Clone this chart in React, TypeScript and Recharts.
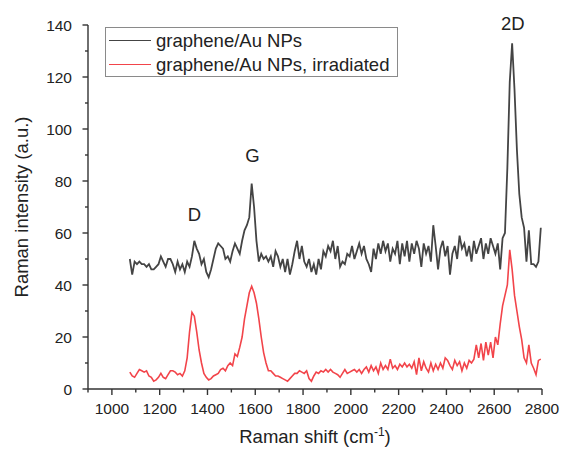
import { LineChart, Line, XAxis, YAxis, Legend, ReferenceDot, Label } from "recharts";

const ramanShift = [
  1075, 1085, 1095, 1105, 1115, 1125, 1135, 1145, 1155, 1165, 1175, 1185, 1195, 1205, 1215, 1225, 1235, 1245, 1255, 1265,
  1275, 1285, 1295, 1305, 1315, 1325, 1335, 1345, 1355, 1365, 1375, 1385, 1395, 1405, 1415, 1425, 1435, 1445, 1455, 1465,
  1475, 1485, 1495, 1505, 1515, 1525, 1535, 1545, 1555, 1565, 1575, 1585, 1595, 1605, 1615, 1625, 1635, 1645, 1655, 1665,
  1675, 1685, 1695, 1705, 1715, 1725, 1735, 1745, 1755, 1765, 1775, 1785, 1795, 1805, 1815, 1825, 1835, 1845, 1855, 1865,
  1875, 1885, 1895, 1905, 1915, 1925, 1935, 1945, 1955, 1965, 1975, 1985, 1995, 2005, 2015, 2025, 2035, 2045, 2055, 2065,
  2075, 2085, 2095, 2105, 2115, 2125, 2135, 2145, 2155, 2165, 2175, 2185, 2195, 2205, 2215, 2225, 2235, 2245, 2255, 2265,
  2275, 2285, 2295, 2305, 2315, 2325, 2335, 2345, 2355, 2365, 2375, 2385, 2395, 2405, 2415, 2425, 2435, 2445, 2455, 2465,
  2475, 2485, 2495, 2505, 2515, 2525, 2535, 2545, 2555, 2565, 2575, 2585, 2595, 2605, 2615, 2625, 2635, 2645, 2655, 2665,
  2675, 2685, 2695, 2705, 2715, 2725, 2735, 2745, 2755, 2765, 2775, 2785, 2795,
];

// graphene/Au NPs
const pristine = [
  50, 44, 49, 48, 49, 48, 48, 47, 48, 46, 46, 47, 48, 51, 49, 47, 50, 50, 48, 45,
  49, 46, 48, 45, 49, 47, 51, 57, 54, 52, 48, 50, 45, 43, 46, 50, 54, 56, 55, 54,
  50, 51, 49, 53, 56, 54, 52, 57, 61, 63, 66, 79, 70, 57, 49, 52, 50, 51, 49, 51,
  47, 53, 51, 47, 50, 45, 50, 44, 48, 53, 57, 50, 55, 49, 47, 50, 45, 48, 44, 50,
  46, 53, 51, 55, 53, 57, 50, 55, 47, 49, 48, 52, 51, 55, 50, 53, 56, 52, 55, 50,
  48, 45, 54, 50, 56, 52, 57, 53, 56, 49, 54, 52, 57, 48, 56, 51, 57, 49, 56, 52,
  57, 54, 47, 56, 52, 55, 49, 63, 55, 46, 54, 57, 51, 55, 44, 52, 55, 50, 59, 54,
  56, 51, 55, 49, 57, 52, 55, 58, 50, 56, 52, 58, 55, 52, 56, 46, 58, 60, 85, 118,
  133, 115, 92, 75, 66, 62, 49, 61, 48, 48, 47, 49, 62,
];

// graphene/Au NPs, irradiated
const irradiated = [
  6.5, 5, 4.5, 6, 7.5, 7, 6.5, 7, 5, 4.5, 3, 3.5, 4.5, 6, 4.5, 4, 5.5, 7, 7, 6.5,
  5.5, 6, 5, 7, 12, 22, 29.5, 28, 22, 15, 10, 6, 4.5, 3.5, 4, 5, 5.5, 6, 7.5, 8,
  7, 9, 10, 9, 13.5, 12.5, 16, 20, 27, 32, 37, 39.5, 37, 33, 27, 20, 14, 10, 7, 7,
  6, 5, 5, 4.5, 4, 3.5, 3, 4, 5, 6, 6, 7, 6.5, 6, 7, 4, 3, 5, 6.5, 6,
  7, 6.5, 7.5, 6.5, 7.5, 6.5, 6, 5.5, 4.5, 6, 7.5, 6, 6.5, 7, 7.5, 6.5, 7.5, 6, 7.5, 8.5,
  6.5, 9, 7, 8.5, 6, 10, 7.5, 9, 7.5, 11.5, 8, 9, 7.5, 9.5, 8.5, 10, 8.5, 9.5, 8, 10.5,
  5.5, 12, 7, 10.5, 8, 6.5, 10, 7, 9.5, 7.5, 10, 8, 12, 11, 9, 7.5, 11, 9, 10.5, 7,
  10, 8, 11, 10, 11.5, 17, 12, 17.5, 11, 18, 13, 18, 12, 20, 17, 25, 32, 36, 40, 53.5,
  46, 36, 30, 24, 19, 12, 10, 17, 10, 8, 5.5, 11, 11.5,
];

const seriesNames = ["graphene/Au NPs", "graphene/Au NPs, irradiated"];
const seriesColors = ["#444444", "#f2444a"];

const xTicks = [900, 1000, 1100, 1200, 1300, 1400, 1500, 1600, 1700, 1800, 1900, 2000, 2100, 2200, 2300, 2400, 2500, 2600, 2700, 2800];
const yTicks = [0, 10, 20, 30, 40, 50, 60, 70, 80, 90, 100, 110, 120, 130, 140];

const peakLabels = [
  { name: "D", shift: 1345, intensity: 67 },
  { name: "G", shift: 1588, intensity: 90 },
  { name: "2D", shift: 2678, intensity: 140.5 },
];

const pristineData = ramanShift.map((x, i) => ({ x, y: pristine[i] }));
const irradiatedData = ramanShift.map((x, i) => ({ x, y: irradiated[i] }));

const FONT = "'Liberation Sans', Arial, sans-serif";
const AXIS = "#333";

function XTick({ x, y, payload }: any) {
  const major = payload.value % 200 === 0;
  return (
    <g>
      <line x1={x} x2={x} y1={y} y2={y + (major ? 6 : 3.5)} stroke={AXIS} strokeWidth={1.4} />
      {major && (
        <text x={x} y={y + 25} textAnchor="middle" fontSize={15.5} fill="#222" fontFamily={FONT}>
          {payload.value}
        </text>
      )}
    </g>
  );
}

function YTick({ x, y, payload }: any) {
  const major = payload.value % 20 === 0;
  return (
    <g>
      <line x1={x} x2={x - (major ? 5.5 : 3)} y1={y} y2={y} stroke={AXIS} strokeWidth={1.4} />
      {major && (
        <text x={x - 16} y={y + 5.5} textAnchor="end" fontSize={15.5} fill="#222" fontFamily={FONT}>
          {payload.value}
        </text>
      )}
    </g>
  );
}

function LegendBox({ payload }: any) {
  return (
    <div
      style={{
        width: 291,
        height: 48,
        border: "1px solid #8a8a8a",
        background: "#fff",
        fontFamily: FONT,
        fontSize: 18.5,
        color: "#222",
        boxSizing: "content-box",
      }}
    >
      {(payload || []).map((entry: any) => (
        <div key={entry.value} style={{ display: "flex", alignItems: "center", height: 23, marginTop: 1 }}>
          <div style={{ width: 42, height: 0, borderTop: `1.5px solid ${entry.color}`, marginLeft: 3, marginRight: 5 }} />
          <span style={{ lineHeight: "23px", whiteSpace: "nowrap" }}>{entry.value}</span>
        </div>
      ))}
    </div>
  );
}

export default function App() {
  return (
    <div style={{ position: "absolute", left: 0, top: 0, width: 563, height: 449, background: "#fff" }}>
      <LineChart width={563} height={449} margin={{ top: 25, right: 21, bottom: 0, left: 0 }}>
        <XAxis
          type="number"
          dataKey="x"
          domain={[900, 2800]}
          ticks={xTicks}
          interval={0}
          height={60}
          tickSize={0}
          tickMargin={0}
          tick={<XTick />}
          axisLine={{ stroke: AXIS, strokeWidth: 1.4 }}
          allowDuplicatedCategory={false}
        >
          <Label
            content={({ viewBox }: any) => (
              <text
                x={viewBox.x + viewBox.width / 2}
                y={viewBox.y + 54}
                textAnchor="middle"
                fontSize={18.5}
                fill="#222"
                fontFamily={FONT}
              >
                Raman shift (cm
                <tspan dy={-7} fontSize={12}>-1</tspan>
                <tspan dy={7}>)</tspan>
              </text>
            )}
          />
        </XAxis>
        <YAxis
          type="number"
          dataKey="y"
          domain={[0, 140]}
          ticks={yTicks}
          interval={0}
          width={88}
          tickSize={0}
          tickMargin={0}
          tick={<YTick />}
          axisLine={{ stroke: AXIS, strokeWidth: 1.4 }}
        >
          <Label
            content={({ viewBox }: any) => {
              const cx = 28;
              const cy = viewBox.y + viewBox.height / 2;
              return (
                <text
                  x={cx}
                  y={cy}
                  transform={`rotate(-90, ${cx}, ${cy})`}
                  textAnchor="middle"
                  fontSize={18.5}
                  fill="#222"
                  fontFamily={FONT}
                >
                  Raman intensity (a.u.)
                </text>
              );
            }}
          />
        </YAxis>
        <Legend
          layout="vertical"
          align="center"
          verticalAlign="middle"
          wrapperStyle={{ left: 105, top: 27, width: "auto" }}
          content={<LegendBox />}
        />
        <Line
          data={pristineData}
          dataKey="y"
          name={seriesNames[0]}
          stroke={seriesColors[0]}
          strokeWidth={1.8}
          dot={false}
          type="linear"
          isAnimationActive={false}
        />
        <Line
          data={irradiatedData}
          dataKey="y"
          name={seriesNames[1]}
          stroke={seriesColors[1]}
          strokeWidth={1.6}
          dot={false}
          type="linear"
          isAnimationActive={false}
        />
        {peakLabels.map((p) => (
          <ReferenceDot
            key={p.name}
            x={p.shift}
            y={p.intensity}
            r={0}
            ifOverflow="visible"
            label={{ value: p.name, position: "center", fontSize: 18.5, fill: "#222", fontFamily: FONT }}
          />
        ))}
      </LineChart>
    </div>
  );
}
